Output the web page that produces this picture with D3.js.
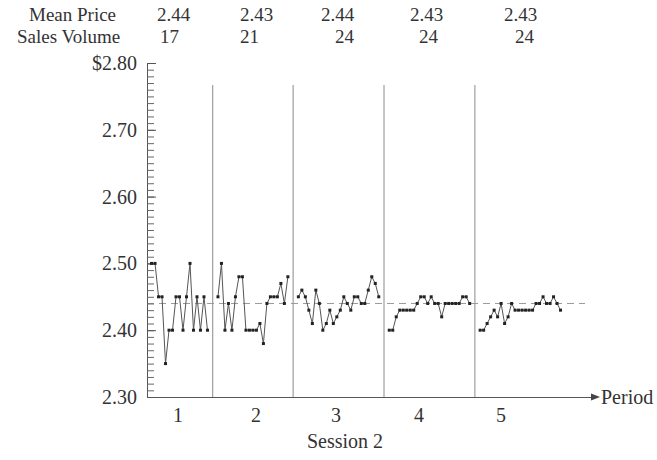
<!DOCTYPE html>
<html>
<head>
<meta charset="utf-8">
<script src="https://cdn.jsdelivr.net/npm/d3@7"></script>
<style>
  body { margin: 0; background: #fff; }
  svg { display: block; }
  text { font-family: "Liberation Serif", "DejaVu Serif", serif; fill: #333; }
</style>
</head>
<body>
<div id="chart"></div>
<script>
// chart values
const periods = ["1", "2", "3", "4", "5"];
const meanPrices = ["2.44", "2.43", "2.44", "2.43", "2.43"];
const salesVolumes = ["17", "21", "24", "24", "24"];
const period1Prices = [2.50, 2.50, 2.45, 2.45, 2.35, 2.40, 2.40, 2.45, 2.45, 2.40, 2.45, 2.50, 2.40, 2.45, 2.40, 2.45, 2.40];
const period2Prices = [2.45, 2.50, 2.40, 2.44, 2.40, 2.45, 2.48, 2.48, 2.40, 2.40, 2.40, 2.40, 2.41, 2.38, 2.44, 2.45, 2.45, 2.45, 2.47, 2.44, 2.48];
const period3Prices = [2.45, 2.46, 2.45, 2.43, 2.41, 2.46, 2.44, 2.40, 2.41, 2.43, 2.41, 2.42, 2.43, 2.45, 2.44, 2.43, 2.45, 2.45, 2.44, 2.44, 2.46, 2.48, 2.47, 2.45];
const period4Prices = [2.40, 2.40, 2.42, 2.43, 2.43, 2.43, 2.43, 2.43, 2.44, 2.45, 2.45, 2.44, 2.45, 2.44, 2.44, 2.42, 2.44, 2.44, 2.44, 2.44, 2.44, 2.45, 2.45, 2.44];
const period5Prices = [2.40, 2.40, 2.41, 2.42, 2.43, 2.42, 2.44, 2.41, 2.42, 2.44, 2.43, 2.43, 2.43, 2.43, 2.43, 2.43, 2.44, 2.44, 2.45, 2.44, 2.44, 2.45, 2.44, 2.43];
const yTickValues = [2.30, 2.40, 2.50, 2.60, 2.70, 2.80];
const yTickLabels = ["2.30", "2.40", "2.50", "2.60", "2.70", "$2.80"];
const referencePrice = 2.44;

// layout
const W = 657, H = 460;
const headerMeanX = [157, 240, 321, 410, 504];
const headerSalesX = [160, 240, 335, 419, 515];
const periodLabelX = [178, 256, 336, 419, 501];
const gapSlots = 2;

const allPeriods = [period1Prices, period2Prices, period3Prices, period4Prices, period5Prices];

// place each trade on a running slot index, with a gap between periods
let start = 0;
const series = allPeriods.map(vals => {
    const pts = vals.map((v, j) => ({ slot: start + j, price: v }));
    start += vals.length + gapSlots;
    return pts;
});
const separators = series.slice(0, -1).map((pts, i) =>
    (pts[pts.length - 1].slot + series[i + 1][0].slot) / 2);

const x = d3.scaleLinear().domain([-1.3, 126]).range([147, 592]);
const y = d3.scaleLinear().domain([2.30, 2.80]).range([397, 63]);

const svg = d3.select("#chart").append("svg")
    .attr("width", W)
    .attr("height", H);

// header rows
const row1 = 21, row2 = 43;
svg.append("text").attr("x", 29).attr("y", row1).style("font-size", "19px").text("Mean Price");
svg.append("text").attr("x", 17).attr("y", row2).style("font-size", "19px").text("Sales Volume");
svg.append("g").selectAll("text")
    .data(meanPrices)
    .join("text")
    .attr("x", (d, i) => headerMeanX[i])
    .attr("y", row1)
    .style("font-size", "19px")
    .text(d => d);
svg.append("g").selectAll("text")
    .data(salesVolumes)
    .join("text")
    .attr("x", (d, i) => headerSalesX[i])
    .attr("y", row2)
    .style("font-size", "19px")
    .text(d => d);

// period separators
svg.append("g").selectAll("line")
    .data(separators)
    .join("line")
    .attr("x1", d => x(d)).attr("x2", d => x(d))
    .attr("y1", 85).attr("y2", y(2.30))
    .attr("stroke", "#8a8a8a")
    .attr("stroke-width", 1);

// reference (mean) dashed line
svg.append("line")
    .attr("x1", x(-1.3)).attr("x2", x(124))
    .attr("y1", y(referencePrice)).attr("y2", y(referencePrice))
    .attr("stroke", "#9a9a9a")
    .attr("stroke-width", 1)
    .attr("stroke-dasharray", "7,5");

// y axis: minor ticks every cent, major every ten cents
const minorTicks = d3.range(51).map(i => 2.30 + i * 0.01);
svg.append("g")
    .attr("transform", `translate(${x(-1.3)},0)`)
    .call(d3.axisLeft(y).tickValues(minorTicks).tickSize(-7).tickSizeOuter(0).tickFormat(""))
    .call(g => g.selectAll("line").attr("stroke", "#666"))
    .call(g => g.select(".domain").attr("stroke", "#555"));

svg.append("g")
    .attr("transform", `translate(${x(-1.3)},0)`)
    .call(d3.axisLeft(y).tickValues(yTickValues).tickSize(-9).tickSizeOuter(0).tickPadding(10)
        .tickFormat((d, i) => yTickLabels[i]))
    .call(g => g.select(".domain").remove())
    .call(g => g.selectAll("line").attr("stroke", "#555"))
    .call(g => g.selectAll("text")
        .style("font-family", '"Liberation Serif", serif')
        .style("font-size", "20px")
        .attr("fill", "#333"));

// x axis with arrow
svg.append("g")
    .attr("transform", `translate(0,${y(2.30)})`)
    .call(d3.axisBottom(x).tickValues([]).tickSizeOuter(0))
    .call(g => g.select(".domain").attr("stroke", "#555"));

const ax = x(126);
svg.append("path")
    .attr("d", `M${ax + 8},${y(2.30)}L${ax - 1},${y(2.30) - 3.5}L${ax - 1},${y(2.30) + 3.5}Z`)
    .attr("fill", "#444");

svg.append("text").attr("x", ax + 9).attr("y", y(2.30) + 7)
    .style("font-size", "20px").text("Period");

// period numbers
svg.append("g").selectAll("text")
    .data(periods)
    .join("text")
    .attr("x", (d, i) => periodLabelX[i])
    .attr("y", 422)
    .attr("text-anchor", "middle")
    .style("font-size", "20px")
    .text(d => d);

svg.append("text").attr("x", 345).attr("y", 448)
    .attr("text-anchor", "middle")
    .style("font-size", "20px")
    .text("Session 2");

// price paths per period
const line = d3.line().x(d => x(d.slot)).y(d => y(d.price));
svg.append("g").selectAll("path")
    .data(series)
    .join("path")
    .attr("d", line)
    .attr("fill", "none")
    .attr("stroke", "#555")
    .attr("stroke-width", 1);

svg.append("g").selectAll("rect")
    .data(series.flat())
    .join("rect")
    .attr("x", d => x(d.slot) - 1.5)
    .attr("y", d => y(d.price) - 1.5)
    .attr("width", 3)
    .attr("height", 3)
    .attr("fill", "#222");
</script>
</body>
</html>
